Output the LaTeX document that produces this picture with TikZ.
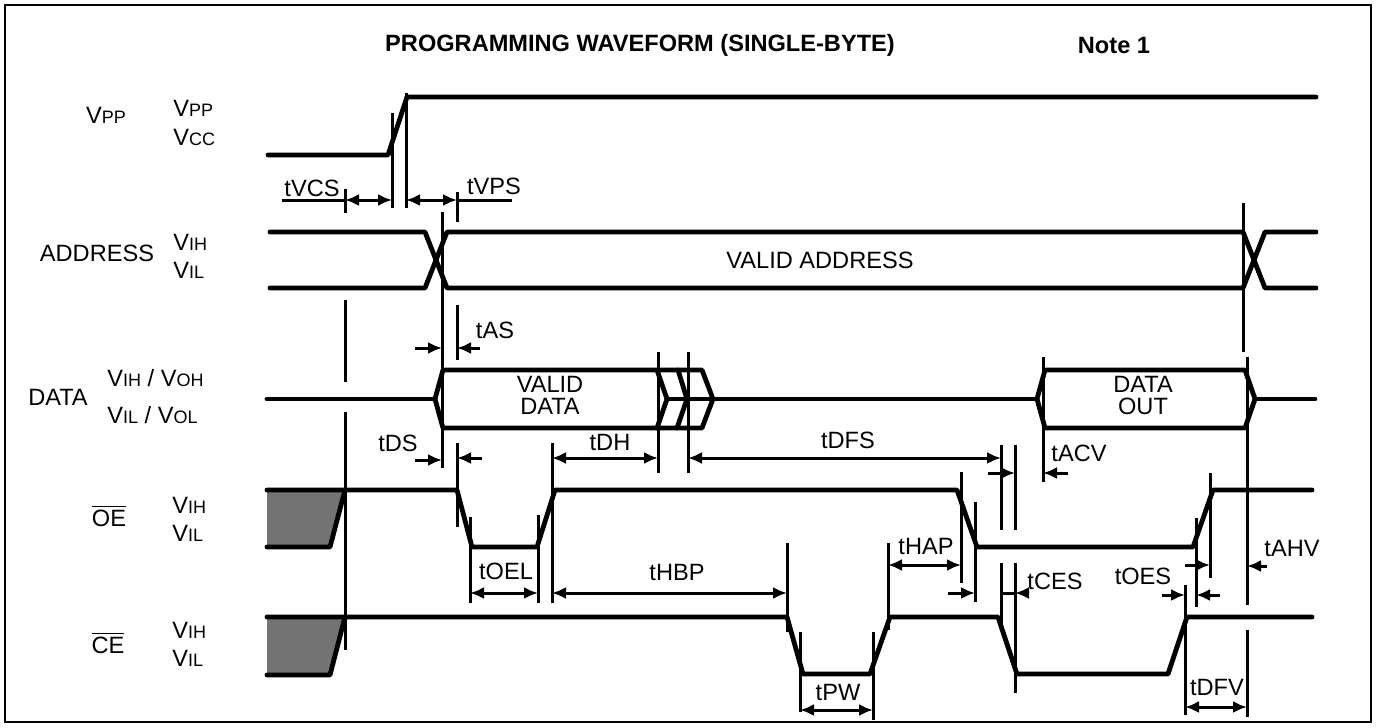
\documentclass[tikz,border=0pt]{standalone}
\usepackage{fontspec}
\setmainfont{Liberation Sans}
\usetikzlibrary{arrows.meta}
\newcommand{\lvl}[1]{{\fontsize{9}{10}\selectfont #1}}

\begin{document}
\begin{tikzpicture}[x=0.5pt,y=-0.5pt,
    sig/.style={line width=2.4pt, line join=round, line cap=round},
    tick/.style={line width=1.5pt},
    dim/.style={line width=1.5pt, {Latex[length=7pt,width=6pt]}-{Latex[length=7pt,width=6pt]}},
    dimr/.style={line width=1.5pt, -{Latex[length=7pt,width=6pt]}},
    lbl/.style={inner sep=0pt, font=\fontsize{11.8}{13}\selectfont}]
  \useasboundingbox (0,0) rectangle (1376,728);
  \draw[line width=1pt] (5,5) rectangle (1371,722);

  % titles
  \node[lbl, font=\fontsize{11.8}{13}\selectfont\bfseries] (title) at (640,45) {PROGRAMMING WAVEFORM (SINGLE-BYTE)};
  \node[lbl, font=\fontsize{11.8}{13}\selectfont\bfseries] (note) at (1114,45) {Note 1};

  % signal names and levels
  \node[lbl] (vpp) at (106,115) {V\lvl{PP}};
  \node[lbl, anchor=west] (vpph) at (173,108) {V\lvl{PP}};
  \node[lbl, anchor=west] (vccl) at (173,137) {V\lvl{CC}};
  \node[lbl] (addr) at (97,253) {ADDRESS};
  \node[lbl, anchor=west] (addrh) at (173,242) {V\lvl{IH}};
  \node[lbl, anchor=west] (addrl) at (173,270) {V\lvl{IL}};
  \node[lbl] (data) at (58,397) {DATA};
  \node[lbl, anchor=west] (datah) at (107,378) {V\lvl{IH} / V\lvl{OH}};
  \node[lbl, anchor=west] (datal) at (107,415) {V\lvl{IL} / V\lvl{OL}};
  \node[lbl] (oe) at (109,516) {$\overline{\mbox{OE}}$};
  \node[lbl, anchor=west] (oeh) at (172,505) {V\lvl{IH}};
  \node[lbl, anchor=west] (oel) at (172,533) {V\lvl{IL}};
  \node[lbl] (ce) at (108,643) {$\overline{\mbox{CE}}$};
  \node[lbl, anchor=west] (ceh) at (172,630) {V\lvl{IH}};
  \node[lbl, anchor=west] (cel) at (172,658) {V\lvl{IL}};

  % waveforms
  \draw[sig] (268,155) -- (388,155) -- (407,97) -- (1316,97);
  \draw[sig] (270,232) -- (425,232) -- (447,288) -- (1243,288) -- (1265,232) -- (1316,232);
  \draw[sig] (270,288) -- (425,288) -- (447,232) -- (1243,232) -- (1265,288) -- (1316,288);
  \node[lbl] (validaddr) at (820,260) {VALID ADDRESS};

  \draw[sig] (267,399) -- (435,399);
  \draw[sig] (443,370) -- (435,399) -- (443,428) -- (702,428) -- (713,399) -- (702,370) -- cycle;
  \draw[sig] (657,370) -- (667,399) -- (657,428);
  \draw[sig] (678,370) -- (687,399) -- (677,428);
  \draw[sig] (667,399) -- (1037,399);
  \draw[sig] (1045,370) -- (1037,399) -- (1045,428) -- (1245,428) -- (1255,399) -- (1245,370) -- cycle;
  \draw[sig] (1255,399) -- (1315,399);
  \node[lbl, align=center] (validdata) at (550,395) {VALID\\[-2pt]DATA};
  \node[lbl, align=center] (dataout) at (1143,395) {DATA\\[-2pt]OUT};

  \fill[black!55] (267,490) -- (345,490) -- (330,547) -- (267,547) -- cycle;
  \draw[sig] (267,547) -- (330,547) -- (345,490);
  \draw[sig] (267,490) -- (457,490) -- (472,547) -- (537,547) -- (555,490) -- (957,490)
    -- (977,547) -- (1193,547) -- (1213,490) -- (1312,490);

  \fill[black!55] (267,617) -- (345,617) -- (330,675) -- (267,675) -- cycle;
  \draw[sig] (267,675) -- (330,675) -- (345,617);
  \draw[sig] (267,617) -- (787,617) -- (803,674) -- (870,674) -- (890,617) -- (998,617)
    -- (1017,674) -- (1168,674) -- (1187,617) -- (1312,617);

  % reference lines
  \foreach \x/\a/\b in {392/113/208, 406/93/208, 345/189/213, 457/192/222,
      442/212/468, 1243/203/352, 345/300/382, 345/412/650, 457/305/360,
      658/352/473, 688/352/473, 1043/357/482, 1247/357/605,
      457/443/527, 470/517/603, 538/515/603, 552/443/603,
      1001/445/530, 1015/445/530, 961/472/583, 975/502/602,
      1196/518/607, 1210/473/578, 787/543/632, 800/632/712, 873/632/720,
      888/543/630, 1001/563/630, 1015/563/693, 1185/585/715, 1247/630/717}
    \draw[tick] (\x,\a) -- (\x,\b);

  % timing parameters
  \draw[tick] (282,200) -- (345,200);
  \draw[dim] (345,200) -- (392,200);
  \node[lbl] (tvcs) at (312,188) {tVCS};
  \draw[dim] (406,200) -- (457,200);
  \draw[tick] (457,200) -- (512,200);
  \node[lbl] (tvps) at (494,186) {tVPS};

  \draw[dimr] (415,348) -- (442,348);
  \draw[dimr] (480,348) -- (457,348);
  \node[lbl] (tas) at (495,330) {tAS};

  \draw[dimr] (415,460) -- (442,460);
  \draw[dimr] (482,458) -- (457,458);
  \node[lbl] (tds) at (398,443) {tDS};
  \draw[dim] (552,458) -- (658,458);
  \node[lbl] (tdh) at (610,442) {tDH};
  \draw[dim] (688,458) -- (1001,458);
  \node[lbl] (tdfs) at (848,440) {tDFS};
  \draw[dimr] (988,473) -- (1015,473);
  \draw[dimr] (1068,473) -- (1043,473);
  \node[lbl] (tacv) at (1079,453) {tACV};

  \draw[dim] (470,593) -- (538,593);
  \node[lbl] (toel) at (506,571) {tOEL};
  \draw[dim] (552,593) -- (787,593);
  \node[lbl] (thbp) at (677,572) {tHBP};
  \draw[dim] (888,565) -- (961,565);
  \node[lbl] (thap) at (926,546) {tHAP};
  \draw[dimr] (948,593) -- (975,593);
  \draw[tick] (1001,593) -- (1015,593);
  \draw[dimr] (1027,593) -- (1015,593);
  \node[lbl] (tces) at (1055,581) {tCES};
  \draw[dimr] (1185,565) -- (1210,565);
  \draw[dimr] (1162,595) -- (1185,595);
  \draw[dimr] (1220,595) -- (1196,595);
  \node[lbl] (toes) at (1143,576) {tOES};
  \draw[dimr] (1267,566) -- (1247,566);
  \node[lbl] (tahv) at (1292,548) {tAHV};

  \draw[dim] (800,710) -- (873,710);
  \node[lbl] (tpw) at (838,692) {tPW};
  \draw[dim] (1185,707) -- (1247,707);
  \node[lbl] (tdfv) at (1217,687) {tDFV};
\end{tikzpicture}
\end{document}
